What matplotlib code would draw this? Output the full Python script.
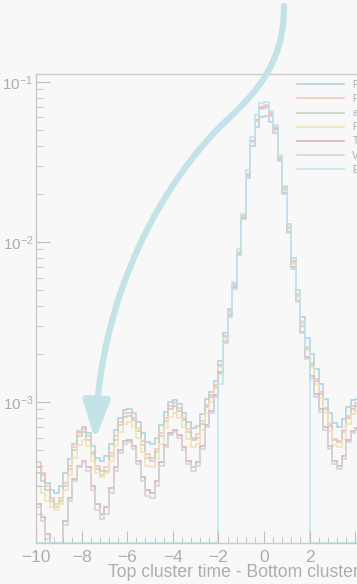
import numpy as np
import matplotlib.pyplot as plt
from matplotlib.path import Path
from matplotlib.patches import FancyArrowPatch

plt.rcParams['font.family'] = ['Liberation Sans', 'DejaVu Sans']

# -----------------------------------------------------
#   DATA  (normalised counts, in units of 1e-4, bins of 0.2 ns)
# -----------------------------------------------------
bin_edges = np.linspace(-10.0, 4.4, 73)

labels = ["F", "F", "a", "P", "T", "V", "E"]

blue = [3.9, 3.5, 3.1, 2.8, 2.7, 3.0, 3.6, 4.4, 5.5, 6.6,
        7.0, 6.4, 5.3, 4.5, 4.3, 4.6, 5.5, 6.7, 8.0, 8.9,
        9.0, 8.5, 7.5, 6.4, 5.6, 5.5, 6.0, 7.2, 8.7, 10.0,
        10.3, 9.7, 8.6, 7.5, 6.9, 7.1, 8.4, 10.5, 11.5, 13.5,
        18, 27, 38, 55, 85, 140, 250, 400, 520, 600,
        610, 560, 480, 330, 220, 130, 80, 50, 34, 25,
        20, 16, 13, 10.5, 8.5, 7.4, 7.0, 7.8, 9.3, 10.3,
        10.5, 10.0]

red = [4.2, 3.6, 3.0, 2.5, 2.3, 2.5, 3.1, 4.0, 5.2, 6.4,
       6.8, 6.1, 4.9, 4.0, 3.7, 3.9, 4.8, 6.1, 7.5, 8.5,
       8.6, 8.0, 6.9, 5.7, 4.7, 4.5, 5.1, 6.4, 8.0, 9.4,
       9.8, 9.2, 8.0, 6.8, 6.0, 6.3, 7.6, 9.6, 11.0, 12.8,
       17, 26, 37, 54, 86, 145, 265, 430, 580, 700,
       720, 640, 520, 340, 215, 125, 76, 47, 31, 22,
       17.5, 14, 11.5, 9.2, 7.3, 5.9, 5.7, 6.7, 8.2, 9.4,
       9.8, 9.5]

green = [3.6, 3.2, 2.8, 2.4, 2.2, 2.4, 3.0, 3.8, 5.0, 6.1,
         6.5, 5.8, 4.7, 3.8, 3.5, 3.7, 4.6, 5.8, 7.2, 8.1,
         8.2, 7.7, 6.6, 5.4, 4.5, 4.3, 4.9, 6.1, 7.6, 9.0,
         9.4, 8.8, 7.7, 6.5, 5.8, 6.0, 7.3, 9.3, 10.7, 12.5,
         17, 26, 37, 54, 86, 145, 265, 430, 580, 690,
         710, 630, 515, 335, 212, 123, 75, 46, 30, 21.5,
         17, 13.6, 11.2, 9.0, 7.1, 5.8, 5.6, 6.5, 8.0, 9.1,
         9.5, 9.2]

yellow = [3.0, 2.7, 2.4, 2.2, 2.1, 2.3, 2.8, 3.5, 4.5, 5.4,
          5.8, 5.3, 4.3, 3.6, 3.4, 3.6, 4.3, 5.3, 6.5, 7.3,
          7.5, 7.0, 6.0, 4.9, 4.0, 3.9, 4.4, 5.5, 6.9, 8.1,
          8.5, 8.0, 7.0, 5.9, 5.2, 5.5, 6.7, 8.6, 10.0, 12.0,
          16.5, 25, 36, 53, 85, 143, 262, 425, 575, 690,
          705, 625, 510, 330, 208, 120, 73, 45, 29.5, 21,
          16.5, 13, 10.6, 8.5, 6.6, 5.4, 5.2, 5.9, 7.3, 8.4,
          8.8, 8.6]

magenta = [2.3, 1.9, 1.5, 1.2, 1.1, 1.3, 1.8, 2.5, 3.3, 4.0,
           4.3, 3.9, 3.0, 2.3, 2.0, 2.2, 2.9, 3.9, 5.0, 5.7,
           5.8, 5.3, 4.3, 3.4, 2.8, 2.7, 3.2, 4.2, 5.4, 6.4,
           6.7, 6.2, 5.2, 4.3, 3.9, 4.2, 5.3, 7.2, 8.8, 11.0,
           15.5, 24, 35, 52, 84, 142, 260, 425, 575, 690,
           700, 620, 505, 325, 203, 116, 70, 43, 27.5, 19,
           14.5, 11.2, 9.0, 7.0, 5.3, 4.3, 4.0, 4.6, 5.8, 6.6,
           6.9, 6.7]

gray = [2.2, 1.8, 1.4, 1.1, 1.0, 1.2, 1.7, 2.4, 3.2, 3.9,
        4.2, 3.7, 2.8, 2.1, 1.85, 2.0, 2.7, 3.7, 4.8, 5.5,
        5.6, 5.1, 4.1, 3.2, 2.6, 2.5, 3.0, 4.0, 5.2, 6.2,
        6.5, 6.0, 5.0, 4.1, 3.7, 4.0, 5.1, 7.0, 8.6, 10.8,
        15, 23.5, 34, 51, 83, 140, 255, 420, 570, 680,
        690, 615, 500, 320, 200, 114, 68, 42, 27, 18.5,
        14, 10.8, 8.7, 6.7, 5.1, 4.1, 3.8, 4.4, 5.6, 6.4,
        6.7, 6.5]

# only the [-2, 2] ns window is filled
cyan = [0] * 40 + [13, 24, 37, 56, 90, 150, 280, 450, 620, 740,
                   750, 660, 540, 350, 225, 130, 80, 50, 32, 22] + [0] * 12

series = [blue, red, green, yellow, magenta, gray, cyan]
colors = ["#b0d5e3", "#f2c5bc", "#c9d2c2", "#f3e1b8", "#dfb0c3", "#d6d6d6", "#bce5ee"]

xticks = [-10, -8, -6, -4, -2, 0, 2, 4, 6, 8, 10]
xticklabels = ["\u221210", "\u22128", "\u22126", "\u22124", "\u22122", "0", "2", "", "", "", ""]

YMIN, YMAX = 1.315e-4, 0.1122
BG = "#f8f8f8"
TXT = "#adadad"

# -----------------------------------------------------
#   FIGURE
# -----------------------------------------------------
fig = plt.figure(figsize=(3.57, 5.84), dpi=100, facecolor=BG)
ax = fig.add_axes([36 / 357, 41 / 584, 456 / 357, 469 / 584], facecolor=BG)

for vals, col, lab in zip(series, colors, labels):
    v = np.clip(np.array(vals) * 1e-4, YMIN, None)
    ax.stairs(v, bin_edges, baseline=None, color=col, lw=1.2, label=lab)

ax.set_yscale("log")
ax.set_xlim(-10, 10)
ax.set_ylim(YMIN, YMAX)
ax.set_xticks(xticks, xticklabels)
ax.set_xticks(np.arange(-10, 10.01, 0.4), minor=True)

for s in ax.spines.values():
    s.set_color("#cacaca")
    s.set_linewidth(1.0)
ax.tick_params(which="both", direction="in", colors="#bdbdbd", labelcolor=TXT,
               top=False, right=False)
ax.tick_params(axis="x", which="major", length=9, pad=5, labelsize=12.5)
ax.tick_params(axis="x", which="minor", length=4.5)
ax.tick_params(axis="y", which="major", length=10, pad=2, labelsize=11)
ax.tick_params(axis="y", which="minor", length=5, labelleft=False)

ax.set_xlabel("Top cluster time - Bottom cluster time [ns]", fontsize=12.7, color=TXT,
              ha="left", va="center")
ax.xaxis.set_label_coords((108 - 36) / 456, -0.063)

ax.legend(loc="upper left", bbox_to_anchor=(0.5724, 0.988), frameon=False,
          fontsize=7, handlelength=4.8, handletextpad=0.9, labelspacing=0.43,
          borderpad=0, borderaxespad=0, labelcolor=TXT)

# big curved arrow annotation (figure pixel coords, y from top)
pts = [(284, 6), (284, 55), (265, 85), (227, 120),
       (189, 155), (102, 262), (95, 440)]
codes = [Path.MOVETO] + [Path.CURVE4] * 6
verts = [(x / 357, 1 - y / 584) for x, y in pts]
arrow = FancyArrowPatch(path=Path(verts, codes), transform=fig.transFigure,
                        arrowstyle="-|>,head_length=23,head_width=8",
                        color="#c3e3e9", lw=4.5, zorder=10)
fig.patches.append(arrow)

fig.savefig("out.png", dpi=100, facecolor=BG)
